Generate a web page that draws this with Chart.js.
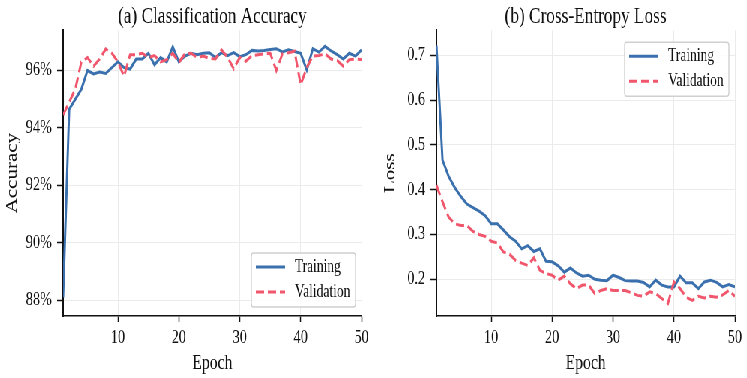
<!DOCTYPE html>
<html>
<head>
<meta charset="utf-8">
<script src="https://cdn.jsdelivr.net/npm/chart.js@4/dist/chart.umd.min.js"></script>
<style>
  html, body { margin: 0; padding: 0; background: #fff; overflow: hidden; }
  /* the reference figure is squeezed horizontally; draw wide, then squeeze */
  #wrap { width: 996px; height: 378px; display: flex; transform: scaleX(0.75); transform-origin: 0 0; }
  canvas { display: block; }
</style>
</head>
<body>
<div id="wrap">
  <canvas id="acc" width="498" height="378"></canvas>
  <canvas id="loss" width="498" height="378"></canvas>
</div>
<script>
"use strict";

const EPOCHS = [1, 2, 3, 4, 5, 6, 7, 8, 9, 10, 11, 12, 13, 14, 15, 16, 17, 18, 19, 20,
  21, 22, 23, 24, 25, 26, 27, 28, 29, 30, 31, 32, 33, 34, 35, 36, 37, 38, 39, 40,
  41, 42, 43, 44, 45, 46, 47, 48, 49, 50];

const TRAIN_ACC = [88.1, 94.65, 95.0, 95.35, 96.0, 95.88, 95.95, 95.9, 96.1, 96.3,
  96.1, 96.05, 96.4, 96.4, 96.6, 96.2, 96.45, 96.3, 96.82, 96.3,
  96.5, 96.6, 96.55, 96.6, 96.62, 96.45, 96.62, 96.52, 96.62, 96.48,
  96.55, 96.7, 96.68, 96.7, 96.73, 96.76, 96.65, 96.72, 96.66, 96.6,
  96.02, 96.76, 96.64, 96.84, 96.68, 96.55, 96.4, 96.6, 96.5, 96.72];
const VAL_ACC = [94.45, 94.9, 95.35, 96.3, 96.45, 96.15, 96.4, 96.75, 96.6, 96.3,
  95.8, 96.55, 96.55, 96.6, 96.45, 96.52, 96.3, 96.38, 96.6, 96.28,
  96.58, 96.6, 96.45, 96.5, 96.42, 96.4, 96.72, 96.46, 96.06, 96.46,
  96.32, 96.52, 96.55, 96.58, 96.6, 96.0, 96.58, 96.62, 96.67, 95.5,
  96.1, 96.5, 96.52, 96.58, 96.4, 96.35, 96.15, 96.38, 96.4, 96.38];

const TRAIN_LOSS = [0.722, 0.466, 0.43, 0.405, 0.385, 0.368, 0.36, 0.352, 0.342, 0.324,
  0.324, 0.31, 0.295, 0.285, 0.268, 0.275, 0.262, 0.268, 0.24, 0.239,
  0.23, 0.216, 0.225, 0.214, 0.207, 0.209, 0.2, 0.198, 0.197, 0.209,
  0.204, 0.197, 0.196, 0.196, 0.193, 0.183, 0.198, 0.187, 0.183, 0.183,
  0.207, 0.192, 0.192, 0.179, 0.194, 0.198, 0.193, 0.183, 0.188, 0.183];
const VAL_LOSS = [0.41, 0.373, 0.339, 0.324, 0.32, 0.32, 0.307, 0.3, 0.296, 0.285,
  0.281, 0.261, 0.256, 0.242, 0.236, 0.231, 0.248, 0.22, 0.213, 0.209,
  0.198, 0.207, 0.19, 0.179, 0.187, 0.187, 0.168, 0.175, 0.179, 0.175,
  0.175, 0.175, 0.17, 0.164, 0.162, 0.172, 0.168, 0.157, 0.146, 0.194,
  0.179, 0.16, 0.153, 0.162, 0.158, 0.162, 0.16, 0.165, 0.175, 0.162];

const X_TICKS = [10, 20, 30, 40, 50];
const ACC_TICKS = [88, 90, 92, 94, 96];
const LOSS_TICKS = [0.2, 0.3, 0.4, 0.5, 0.6, 0.7];

const BLUE = "#3a70ad";
const RED = "#f0566c";
const INK = "#111";
const SERIF = "'Liberation Serif', 'DejaVu Serif', serif";

// matplotlib-style framed legend drawn inside the plot area
const boxLegend = {
  id: "boxLegend",
  afterDatasetsDraw(chart, args, opts) {
    const { ctx, chartArea: a } = chart;
    const w = 139, h = 54;
    const x = a.right - 8 - w;
    const y = opts.corner === "top" ? a.top + opts.inset : a.bottom - opts.inset - h;
    ctx.save();
    ctx.beginPath();
    ctx.roundRect(x, y, w, h, 3);
    ctx.fillStyle = "rgba(255,255,255,0.85)";
    ctx.fill();
    ctx.strokeStyle = "#d0d0d0";
    ctx.lineWidth = 1.4;
    ctx.stroke();
    ctx.font = `18px ${SERIF}`;
    ctx.textBaseline = "middle";
    chart.data.datasets.forEach((ds, i) => {
      const cy = y + 14 + i * 25;
      ctx.beginPath();
      ctx.setLineDash(ds.borderDash || []);
      ctx.strokeStyle = ds.borderColor;
      ctx.lineWidth = ds.borderWidth;
      ctx.moveTo(x + 6, cy);
      ctx.lineTo(x + 45, cy);
      ctx.stroke();
      ctx.setLineDash([]);
      ctx.fillStyle = INK;
      ctx.fillText(ds.label, x + 58, cy);
    });
    ctx.restore();
  },
};

function series(label, ys, color, dashed, order) {
  return {
    label,
    data: EPOCHS.map((e, i) => ({ x: e, y: ys[i] })),
    borderColor: color,
    backgroundColor: color,
    borderWidth: 3,
    borderDash: dashed ? [11, 5] : [],
    pointRadius: 0,
    tension: 0,
    order,
  };
}

function makeChart(id, cfg) {
  return new Chart(document.getElementById(id), {
    type: "line",
    data: {
      datasets: [
        series("Training", cfg.train, BLUE, false, 1),
        series("Validation", cfg.val, RED, true, 0),
      ],
    },
    plugins: [boxLegend],
    options: {
      responsive: false,
      animation: false,
      events: [],
      layout: { padding: { left: 0, right: 16, top: 0, bottom: 0 } },
      plugins: {
        legend: { display: false },
        tooltip: { enabled: false },
        title: {
          display: true,
          text: cfg.title,
          fullSize: false,
          color: INK,
          font: { family: SERIF, size: 23, weight: "normal", lineHeight: 1.1 },
          padding: { top: 4.5, bottom: 0.5 },
        },
        boxLegend: { corner: cfg.legendCorner, inset: cfg.legendInset },
      },
      scales: {
        x: {
          type: "linear",
          min: 1,
          max: 50,
          afterBuildTicks: (s) => { s.ticks = X_TICKS.map((v) => ({ value: v })); },
          afterFit: (s) => { s.height = 62; },
          grid: { color: "#ebebeb", lineWidth: 1, tickColor: INK, tickWidth: 1.5, tickLength: 6 },
          border: { color: INK, width: 1.6 },
          ticks: { color: INK, padding: 5, font: { family: SERIF, size: 19 } },
          title: {
            display: true, text: "Epoch", color: INK,
            font: { family: SERIF, size: 21 }, padding: { top: 0, bottom: 2.4 },
          },
        },
        y: {
          min: cfg.yMin,
          max: cfg.yMax,
          afterBuildTicks: (s) => { s.ticks = cfg.yTicks.map((v) => ({ value: v })); },
          afterFit: (s) => { s.width = 84; },
          grid: { color: "#ebebeb", lineWidth: 1, tickColor: INK, tickWidth: 1.5, tickLength: 8 },
          border: { color: INK, width: 2 },
          ticks: { color: INK, padding: 7, font: { family: SERIF, size: 19 }, callback: cfg.fmt },
          title: {
            display: true, text: cfg.yTitle, color: INK,
            font: { family: SERIF, size: 21 }, padding: { top: cfg.yTitlePad, bottom: 0 },
          },
        },
      },
    },
  });
}

makeChart("acc", {
  title: "(a) Classification Accuracy",
  train: TRAIN_ACC,
  val: VAL_ACC,
  yMin: 87.45,
  yMax: 97.4,
  yTicks: ACC_TICKS,
  fmt: (v) => `${v}%`,
  yTitle: "Accuracy",
  yTitlePad: 3.4,
  legendCorner: "bottom",
  legendInset: 9,
});

makeChart("loss", {
  title: "(b) Cross-Entropy Loss",
  train: TRAIN_LOSS,
  val: VAL_LOSS,
  yMin: 0.118,
  yMax: 0.756,
  yTicks: LOSS_TICKS,
  fmt: (v) => v.toFixed(1),
  yTitle: "Loss",
  yTitlePad: 9.4,
  legendCorner: "top",
  legendInset: 12,
});
</script>
</body>
</html>
